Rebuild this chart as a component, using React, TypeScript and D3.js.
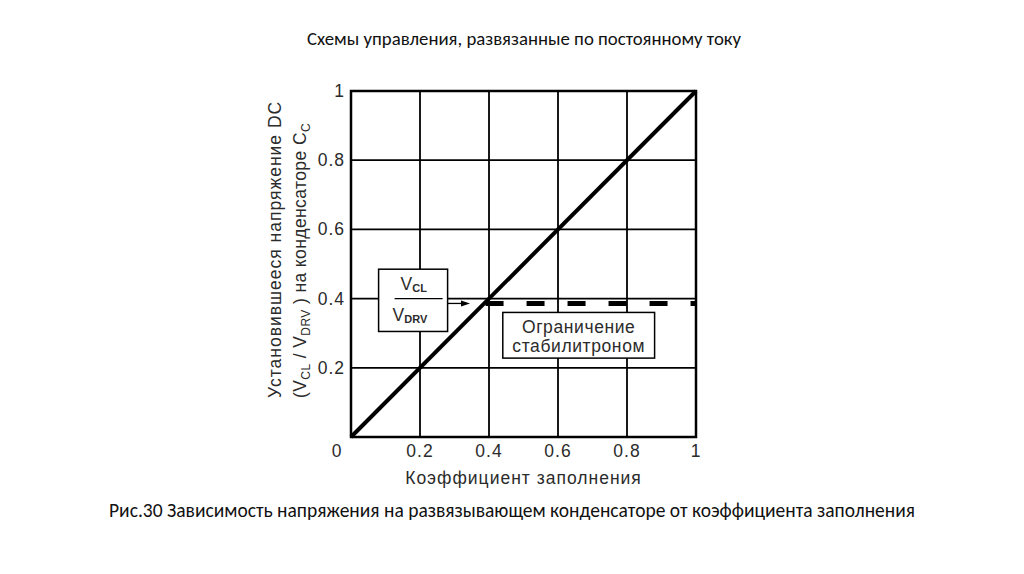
import React from 'react';
import * as d3 from 'd3';

// данные графика
const xTicks = [0, 0.2, 0.4, 0.6, 0.8, 1];
const yTicks = [0.2, 0.4, 0.6, 0.8, 1];
const tickLabels = ['0', '0.2', '0.4', '0.6', '0.8', '1'];
const dutyValues = [0, 1];
const ratioValues = [0, 1];
const clampStart = 0.39;
const clampEnd = 1;
const clampLevel = 0.386;

const pageTitle = 'Схемы управления, развязанные по постоянному току';
const caption = 'Рис.30 Зависимость напряжения на развязывающем  конденсаторе от коэффициента заполнения';
const xTitle = 'Коэффициент заполнения';
const zenerLabel = ['Ограничение', 'стабилитроном'];

const App: React.FC = () => {
  const W = 1024;
  const H = 574;
  const plot = { left: 351, right: 696, top: 91, bottom: 437 };

  const x = d3.scaleLinear().domain([0, 1]).range([plot.left, plot.right]);
  const y = d3.scaleLinear().domain([0, 1]).range([plot.bottom, plot.top]);

  const diag = d3.line<number>()
    .x((_, i) => x(dutyValues[i]))
    .y((d) => y(d));

  const chartFont = '"Liberation Sans", Arial, sans-serif';
  const ink = '#2b2b2b';
  const fs = 17.5;
  const ls = 1;
  const pageFont = 'Carlito, Lato, "Open Sans", sans-serif';

  // позиции подписей-боксов (в единицах осей)
  const boxA = { x0: x(0.08), x1: x(0.28), y0: y(0.485), y1: y(0.305) };
  const boxB = { x0: x(0.44), x1: x(0.88), y0: y(0.36), y1: y(0.228) };
  const clampY = y(clampLevel);

  return (
    <svg width={W} height={H} style={{ position: 'absolute', left: 0, top: 0, background: '#fff' }}>
      <text x={524} y={45} textAnchor="middle" fontFamily={pageFont} fontSize={18.8} fill="#111">
        {pageTitle}
      </text>

      {/* сетка */}
      {yTicks.slice(0, -1).map((t) => (
        <line key={'gy' + t} x1={plot.left} x2={plot.right} y1={y(t)} y2={y(t)} stroke="#000" strokeWidth={1.8} />
      ))}
      {xTicks.slice(1, -1).map((t) => (
        <line key={'gx' + t} x1={x(t)} x2={x(t)} y1={plot.top} y2={plot.bottom} stroke="#000" strokeWidth={1.8} />
      ))}
      <rect x={plot.left} y={plot.top} width={plot.right - plot.left} height={plot.bottom - plot.top}
        fill="none" stroke="#000" strokeWidth={2.5} />

      {/* ограничение стабилитроном */}
      <line x1={x(clampStart)} x2={x(clampEnd)} y1={clampY} y2={clampY}
        stroke="#000" strokeWidth={5} strokeDasharray="18 23" />

      {/* основная линия */}
      <path d={diag(ratioValues) || ''} stroke="#000" strokeWidth={4} fill="none" />

      {/* подписи делений */}
      {xTicks.map((t, i) => (
        <text key={'tx' + t} x={i === 0 ? x(t) - 14 : x(t)} y={plot.bottom + 20} textAnchor="middle"
          fontFamily={chartFont} fontSize={fs} letterSpacing={ls} fill={ink}>{tickLabels[i]}</text>
      ))}
      {yTicks.map((t, i) => (
        <text key={'ty' + t} x={plot.left - 6} y={y(t) + 6} textAnchor="end"
          fontFamily={chartFont} fontSize={fs} letterSpacing={ls} fill={ink}>{tickLabels[i + 1]}</text>
      ))}

      {/* подпись оси X */}
      <text x={(plot.left + plot.right) / 2} y={plot.bottom + 47} textAnchor="middle"
        fontFamily={chartFont} fontSize={fs} letterSpacing={ls} fill={ink}>{xTitle}</text>

      {/* подпись оси Y */}
      <g transform={`translate(281, 398) rotate(-90)`}>
        <text x={0} y={0} fontFamily={chartFont} fontSize={fs} letterSpacing={ls} fill={ink}>Установившееся напряжение DC</text>
        <text x={0} y={25} fontFamily={chartFont} fontSize={fs} letterSpacing={0.4} fill={ink}>
          (V<tspan fontSize={12} dy={4}>CL</tspan><tspan dy={-4}> / V</tspan>
          <tspan fontSize={12} dy={4}>DRV</tspan><tspan dy={-4}> ) на конденсаторе C</tspan>
          <tspan fontSize={12} dy={4}>C</tspan>
        </text>
      </g>

      {/* бокс V_CL / V_DRV */}
      <rect x={boxA.x0} y={boxA.y0} width={boxA.x1 - boxA.x0} height={boxA.y1 - boxA.y0}
        fill="#fff" stroke="#000" strokeWidth={1.5} />
      <line x1={boxA.x0 + 16} x2={boxA.x1 - 5} y1={y(0.4)} y2={y(0.4)} stroke="#000" strokeWidth={1.3} />
      <text x={boxA.x0 + 22} y={y(0.4) - 9} fontFamily={chartFont} fontSize={fs} fill={ink}>
        V<tspan fontSize={11} dy={2} fontWeight="bold">CL</tspan>
      </text>
      <text x={boxA.x0 + 14} y={y(0.4) + 22} fontFamily={chartFont} fontSize={fs} fill={ink}>
        V<tspan fontSize={11} dy={2} fontWeight="bold">DRV</tspan>
      </text>

      {/* стрелка */}
      <line x1={boxA.x1} x2={x(0.33)} y1={clampY} y2={clampY} stroke="#000" strokeWidth={1.3} />
      <path d={`M${x(0.345)},${clampY} l-9,-3 l0,6 z`} fill="#000" />

      {/* бокс "Ограничение стабилитроном" */}
      <rect x={boxB.x0} y={boxB.y0} width={boxB.x1 - boxB.x0} height={boxB.y1 - boxB.y0}
        fill="#fff" stroke="#000" strokeWidth={1.5} />
      {zenerLabel.map((s, i) => (
        <text key={s} x={(boxB.x0 + boxB.x1) / 2} y={boxB.y0 + 21 + i * 19} textAnchor="middle"
          fontFamily={chartFont} fontSize={fs} letterSpacing={0.6} fill={ink}>{s}</text>
      ))}

      <text x={512} y={517} textAnchor="middle" fontFamily={pageFont} fontSize={19.5} fill="#111">
        {caption}
      </text>
    </svg>
  );
};

export default App;
